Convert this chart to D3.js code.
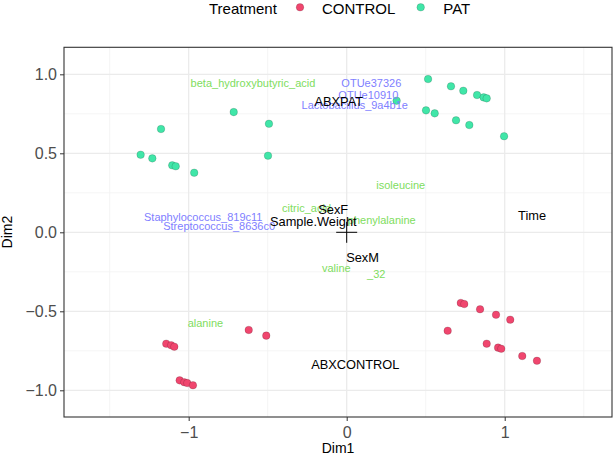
<!DOCTYPE html>
<html><head><meta charset="utf-8">
<script src="https://cdn.jsdelivr.net/npm/d3@7"></script>
<style>body{margin:0;background:#fff;}svg{display:block;font-family:"Liberation Sans",Arial,Helvetica,sans-serif;}</style>
</head><body><svg id="c" width="615" height="459"></svg>
<script>
const patX = [-1.175,-0.715,-0.492,-1.304,-1.230,-1.104,-1.082,-0.965,-0.498,0.515,0.660,0.738,0.825,0.867,0.886,0.502,0.557,0.692,0.776,0.996,0.316];
const patY = [0.654,0.761,0.687,0.491,0.468,0.424,0.418,0.377,0.485,0.970,0.924,0.896,0.869,0.854,0.848,0.772,0.753,0.709,0.679,0.608,0.833];
const ctrlX = [-1.142,-1.111,-1.091,-1.057,-1.028,-1.009,-0.973,-0.620,-0.509,0.722,0.744,0.844,0.945,1.035,0.639,0.886,0.958,0.978,1.111,1.204];
const ctrlY = [-0.705,-0.715,-0.724,-0.937,-0.949,-0.954,-0.968,-0.618,-0.654,-0.447,-0.454,-0.487,-0.522,-0.553,-0.623,-0.705,-0.730,-0.737,-0.783,-0.813];

const metabLabels = ["beta_hydroxybutyric_acid","isoleucine","citric_acid","phenylalanine","valine","_32","alanine"];
const metabX = [-0.593,0.342,-0.254,0.222,-0.066,0.187,-0.894];
const metabY = [0.943,0.299,0.152,0.078,-0.228,-0.264,-0.572];
const otuLabels = ["OTUe37326","OTUe10910","Lactobacillus_9a4b1e","Staphylococcus_819c11","Streptococcus_8636c0"];
const otuX = [0.156,0.137,0.051,-0.908,-0.807];
const otuY = [0.943,0.869,0.806,0.099,0.042];
const covLabels = ["ABXPAT","SexF","Sample.Weight","SexM","ABXCONTROL","Time"];
const covX = [-0.050,-0.085,-0.211,0.100,0.054,1.173];
const covY = [0.827,0.146,0.067,-0.158,-0.834,0.105];

const xTicks = [-1,0,1];
const xMinor = [-1.5,-0.5,0.5,1.5];
const yTicks = [-1.0,-0.5,0.0,0.5,1.0];
const yMinor = [-0.75,-0.25,0.25,0.75];
const groups = ["CONTROL","PAT"];
const groupColors = ["#F0466E","#40E6A8"];

const svg = d3.select("#c");
const L=64,R=612,T=47.3,B=417;
const x = d3.scaleLinear().domain([-1.789,1.679]).range([L,R]);
const y = d3.scaleLinear().domain([-1.169,1.171]).range([B,T]);

// grid
const g = svg.append("g");
g.selectAll(".xm").data(xMinor).join("line").attr("x1",d=>x(d)).attr("x2",d=>x(d)).attr("y1",T).attr("y2",B).attr("stroke","#f2f2f2").attr("stroke-width",0.8);
g.selectAll(".ym").data(yMinor).join("line").attr("y1",d=>y(d)).attr("y2",d=>y(d)).attr("x1",L).attr("x2",R).attr("stroke","#f2f2f2").attr("stroke-width",0.8);
g.selectAll(".xM").data(xTicks).join("line").attr("x1",d=>x(d)).attr("x2",d=>x(d)).attr("y1",T).attr("y2",B).attr("stroke","#ebebeb").attr("stroke-width",1.3);
g.selectAll(".yM").data(yTicks).join("line").attr("y1",d=>y(d)).attr("y2",d=>y(d)).attr("x1",L).attr("x2",R).attr("stroke","#ebebeb").attr("stroke-width",1.3);

// axes
const xAxis = d3.axisBottom(x).tickValues(xTicks).tickFormat(d=>d===0?"0":d3.format("")(d)).tickSize(4).tickPadding(3);
const yAxis = d3.axisLeft(y).tickValues(yTicks).tickFormat(d3.format(".1f")).tickSize(4).tickPadding(3);
const gx = svg.append("g").attr("transform",`translate(0,${B})`).call(xAxis);
const gy = svg.append("g").attr("transform",`translate(${L},0)`).call(yAxis);
[gx,gy].forEach(a=>{
  a.select(".domain").remove();
  a.selectAll(".tick line").attr("stroke","#333").attr("stroke-width",1);
  a.selectAll(".tick text").attr("fill","#4d4d4d").attr("font-size",16).attr("font-family","Liberation Sans, Arial, sans-serif");
});
gx.selectAll(".tick text").attr("dy","0.9em");

// points
function pts(xs,ys,col){
  svg.append("g").selectAll("circle").data(xs.map((v,i)=>[v,ys[i]])).join("circle")
    .attr("cx",d=>x(d[0])).attr("cy",d=>y(d[1])).attr("r",3.8)
    .attr("fill",col).attr("stroke","rgba(0,0,0,0.25)").attr("stroke-width",0.6);
}
pts(ctrlX,ctrlY,groupColors[0]);
pts(patX,patY,groupColors[1]);

// cross at origin
svg.append("line").attr("x1",x(0)-10.5).attr("x2",x(0)+10.5).attr("y1",y(0)).attr("y2",y(0)).attr("stroke","#000").attr("stroke-width",1);
svg.append("line").attr("x1",x(0)).attr("x2",x(0)).attr("y1",y(0)-10.5).attr("y2",y(0)+10.5).attr("stroke","#000").attr("stroke-width",1);

function labels(ls,xs,ys,col,size){
  svg.append("g").selectAll("text").data(ls.map((l,i)=>({l,x:xs[i],y:ys[i]}))).join("text")
    .attr("x",d=>x(d.x)).attr("y",d=>y(d.y)).attr("dy","0.36em").attr("text-anchor","middle")
    .attr("font-size",size).attr("fill",col).text(d=>d.l);
}
labels(metabLabels,metabX,metabY,"#80DD60",11);
labels(otuLabels,otuX,otuY,"#8080FF",11);
labels(covLabels,covX,covY,"#000",12.8);

// panel border
svg.append("rect").attr("x",L).attr("y",T).attr("width",R-L).attr("height",B-T).attr("fill","none").attr("stroke","#333").attr("stroke-width",1.1);

// axis titles
svg.append("text").attr("x",(L+R)/2).attr("y",453).attr("text-anchor","middle").attr("font-size",14).attr("fill","#000").text("Dim1");
svg.append("text").attr("transform",`translate(12,${(T+B)/2}) rotate(-90)`).attr("text-anchor","middle").attr("font-size",14).attr("fill","#000").text("Dim2");

// legend
const lg = svg.append("g");
lg.append("text").attr("x",209).attr("y",13.5).attr("font-size",15).attr("fill","#000").text("Treatment");
const keyX=[300,420.7], txtX=[322,443.3];
groups.forEach((gname,i)=>{
  lg.append("circle").attr("cx",keyX[i]).attr("cy",7.3).attr("r",3.8).attr("fill",groupColors[i]).attr("stroke","rgba(0,0,0,0.25)").attr("stroke-width",0.6);
  lg.append("text").attr("x",txtX[i]).attr("y",13.5).attr("font-size",15).attr("fill","#000").text(gname);
});
</script></body></html>
